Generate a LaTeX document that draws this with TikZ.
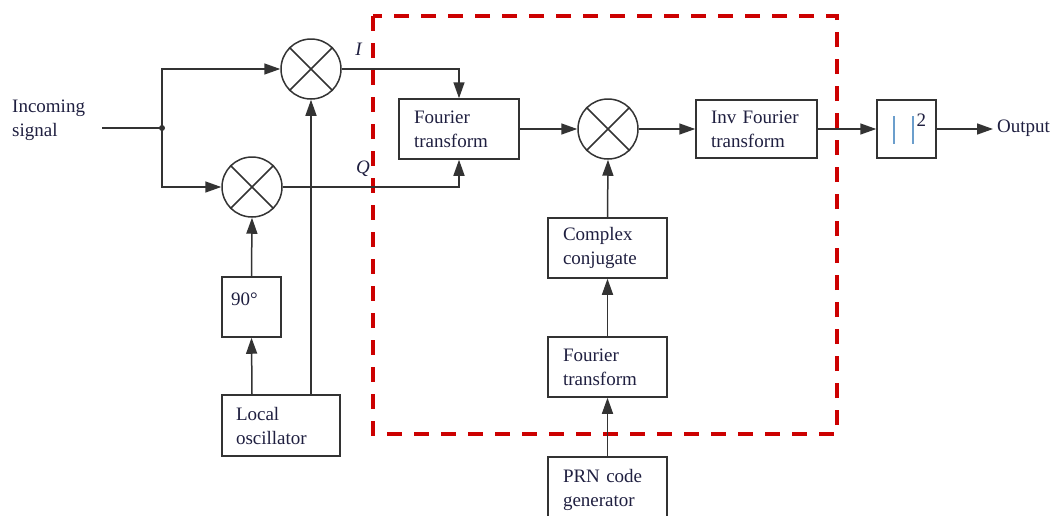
\documentclass[tikz,border=0pt]{standalone}
\usepackage{fontspec}
\setmainfont{Liberation Serif}
\usetikzlibrary{arrows.meta}
\definecolor{wire}{HTML}{333333}
\definecolor{ink}{rgb}{0.12,0.12,0.25}
\definecolor{barblue}{rgb}{0.42,0.62,0.80}
\definecolor{dashred}{HTML}{CC0000}
\newcommand{\lbl}{\fontsize{19pt}{24pt}\selectfont}
\newcommand{\magbar}{{\color{barblue}\rule[-16pt]{1.8pt}{28pt}}}
\tikzset{
  wireline/.style={draw=wire, line width=1.5pt},
  flow/.style={wireline, -{Triangle[length=16pt,width=11pt]}},
  blk/.style={draw=wire, line width=1.5pt, align=left, text=ink, font=\lbl,
              inner xsep=15pt, inner ysep=0pt, minimum height=60pt},
  mixer/.style={circle, draw=wire, line width=1.5pt, minimum size=60pt, inner sep=0pt},
  txt/.style={text=ink, font=\lbl, inner sep=0pt}
}
\begin{document}
\begin{tikzpicture}[x=1pt,y=-1pt]
\useasboundingbox (0,0) rectangle (1060,515);

% processing region
\draw[dashred, line width=4pt, dash pattern=on 15pt off 12pt] (373,16) rectangle (837,434);

% multipliers
\node[mixer] (M1) at (311,69) {};
\node[mixer] (M2) at (252,187) {};
\node[mixer] (M3) at (608,129) {};
\foreach \m in {M1,M2,M3}{
  \draw[wireline] (\m.45) -- (\m.225);
  \draw[wireline] (\m.135) -- (\m.315);
}

% blocks
\node[blk, text width=90pt] (FT1) at (459,129) {Fourier\\transform};
\node[blk, text width=91pt, minimum height=58pt] (IFT) at (756.5,129) {Inv Fourier\\transform};
\node[blk, text width=27pt, inner xsep=16pt, minimum height=58pt] (SQ) at (906.5,129)
  {\mbox{\magbar\hspace{17pt}\magbar\hspace{3pt}\raisebox{1pt}{2}}};
\node[blk, text width=89pt] (CC) at (607.5,248) {Complex\\conjugate};
\node[blk, text width=89pt] (FT2) at (607.5,367) {Fourier\\transform};
\node[blk, text width=89pt, minimum height=66pt] (PRN) at (607.5,490) {PRN code\\generator};
\node[blk, text width=90pt, inner xsep=14pt, minimum height=61pt] (LO) at (281,425.5) {Local\\oscillator};
\node[blk, text width=41pt, inner xsep=9pt, text height=13pt, text depth=17pt] (P90) at (251.5,307) {90°};

% input and split
\node[txt, anchor=west, align=left] (insig) at (12,120) {Incoming\\signal};
\coordinate (in) at (102,128);
\coordinate (J) at (162,128);
\draw[wireline] (in) -- (J);
\fill[wire] (J) circle (3pt);
\draw[flow] (J) |- (M1.west);
\draw[flow] (J) |- (M2.west);

% local oscillator feeds
\draw[flow] (M1 |- LO.north) -- (M1.south);
\draw[flow] (M2 |- LO.north) -- (P90.south);
\draw[flow] (P90.north) -- (M2.south);

% I and Q into the transform
\draw[flow] (M1.east) -| (FT1.north);
\draw[flow] (M2.east) -| (FT1.south);
\node[txt, font=\lbl\itshape] (Ilab) at (358.5,49) {I};
\node[txt, font=\lbl\itshape] (Qlab) at (363,169) {Q};

% correlation chain
\draw[flow] (FT1.east) -- (M3.west);
\draw[flow] (M3.east) -- (IFT.west);
\draw[flow] (IFT.east) -- (SQ.west);
\coordinate (out) at (993,129);
\draw[flow] (SQ.east) -- (out);
\node[txt, anchor=west] (outlab) at (997,128) {Output};

% reference code branch
\draw[flow] (PRN.north) -- (FT2.south);
\draw[flow] (FT2.north) -- (CC.south);
\draw[flow] (CC.north) -- (M3.south);
\end{tikzpicture}
\end{document}
